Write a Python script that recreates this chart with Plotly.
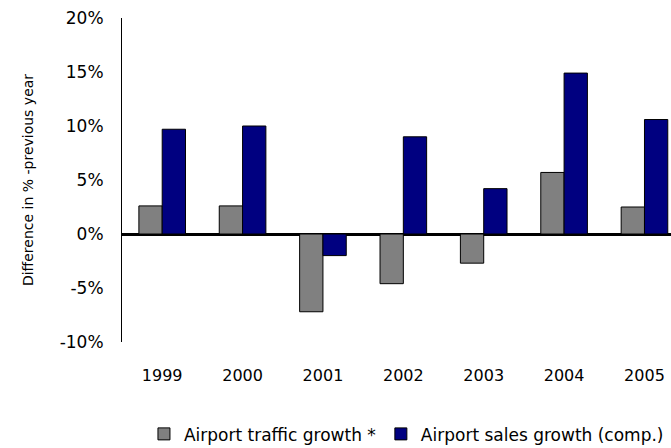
import plotly.graph_objects as go

years = ["1999", "2000", "2001", "2002", "2003", "2004", "2005"]
traffic_growth = [2.6, 2.6, -7.2, -4.6, -2.7, 5.7, 2.5]
sales_growth = [9.7, 10.0, -2.0, 9.0, 4.2, 14.9, 10.6]
y_ticks = [-10, -5, 0, 5, 10, 15, 20]
y_tick_labels = ["-10%", "-5%", "0%", "5%", "10%", "15%", "20%"]

FONT = "DejaVu Sans"

fig = go.Figure()
fig.add_trace(go.Bar(
    x=years, y=traffic_growth, name="Airport traffic growth *",
    marker=dict(color="#808080", line=dict(color="#000000", width=1)),
))
fig.add_trace(go.Bar(
    x=years, y=sales_growth, name="Airport sales growth (comp.)",
    marker=dict(color="#000080", line=dict(color="#000000", width=1)),
))

fig.update_layout(
    width=671, height=448,
    margin=dict(l=122, r=0, t=18, b=106, autoexpand=False),
    paper_bgcolor="white", plot_bgcolor="white",
    barmode="group", bargap=0.42, bargroupgap=0,
    font=dict(family=FONT, size=16, color="#000000"),
    showlegend=True,
    legend=dict(orientation="h", x=0.04, xanchor="left", y=-0.285, yanchor="middle",
                font=dict(size=17), itemwidth=30, tracegroupgap=0,
                traceorder="normal"),
)
fig.update_xaxes(
    type="category", range=[-0.5, 6.33], automargin=False,
    showline=False, showgrid=False, zeroline=False,
    ticks="outside", ticklen=19, tickcolor="rgba(0,0,0,0)",
    tickfont=dict(size=16),
)
fig.update_yaxes(
    range=[-10, 20], tickvals=y_ticks, ticktext=y_tick_labels, automargin=False,
    showline=True, linecolor="#000000", linewidth=1,
    showgrid=False, zeroline=True, zerolinecolor="#000000", zerolinewidth=3,
    ticks="outside", ticklen=14, tickcolor="rgba(0,0,0,0)",
    tickfont=dict(size=17),
    title=dict(text="Difference in % -previous year", font=dict(size=14), standoff=22),
)

fig.write_html(
    "out.html",
    config={"displayModeBar": False},
    post_script="document.body.style.margin='0';document.body.style.overflow='hidden';",
)
